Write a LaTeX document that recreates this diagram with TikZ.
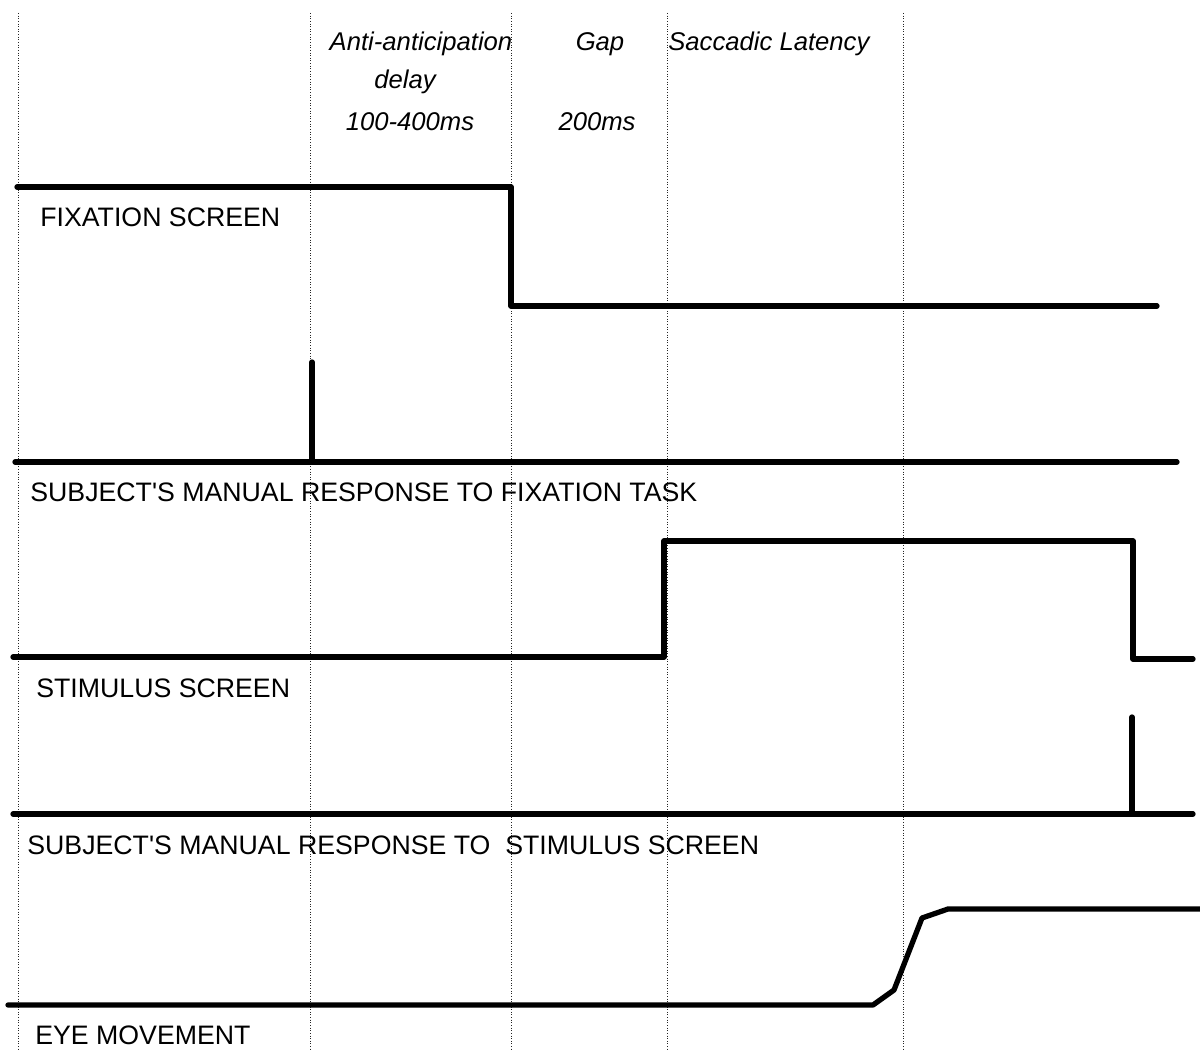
\documentclass[tikz,border=0pt]{standalone}
\usepackage{fontspec}
\newfontfamily\lsans{Liberation Sans}
\begin{document}
\begin{tikzpicture}[x=0.02cm,y=-0.02cm,
  grid/.style={densely dotted,line width=0.5pt,black!85},
  wave/.style={line width=3pt,line join=round,line cap=round},
  lab/.style={anchor=west,inner sep=0pt,font=\lsans\fontsize{15.2}{17}\selectfont},
  hdr/.style={inner sep=0pt,font=\lsans\fontsize{14.6}{17}\selectfont\itshape}]
\useasboundingbox (0,0) rectangle (1200,1050);
% dotted time markers
\foreach \x in {18,310,511,667,903}
  \draw[grid] (\x,13) -- (\x,1050);
% headers
\node[hdr] (h1) at (421,44) {Anti-anticipation};
\node[hdr] (h2) at (405,82) {delay};
\node[hdr] (h3) at (410,122) {100-400ms};
\node[hdr] (h4) at (600,44) {Gap};
\node[hdr] (h5) at (597,122) {200ms};
\node[hdr,anchor=west] (h6) at (668,44) {Saccadic Latency};
% fixation screen
\draw[wave] (17,187) -- (511,187) -- (511,306) -- (1157,306);
\node[lab] (l1) at (40,217) {FIXATION SCREEN};
% manual response 1
\draw[wave] (15,462) -- (1177,462);
\draw[wave] (312,362) -- (312,462);
\node[lab] (l2) at (30,492) {SUBJECT'S MANUAL RESPONSE TO FIXATION TASK};
% stimulus screen
\draw[wave] (13,657) -- (664,657) -- (664,541) -- (1133,541) -- (1133,659) -- (1193,659);
\node[lab] (l3) at (36,688) {STIMULUS SCREEN};
% manual response 2
\draw[wave] (13,814) -- (1193,814);
\draw[wave] (1132,717) -- (1132,814);
\node[lab] (l4) at (27,845) {SUBJECT'S MANUAL RESPONSE TO\ \ STIMULUS SCREEN};
% eye movement
\draw[wave] (8,1005) -- (873,1005) -- (894,990) -- (922,918) -- (948,909) -- (1200,909);
\node[lab] (l5) at (35,1035) {EYE MOVEMENT};
\end{tikzpicture}
\end{document}
